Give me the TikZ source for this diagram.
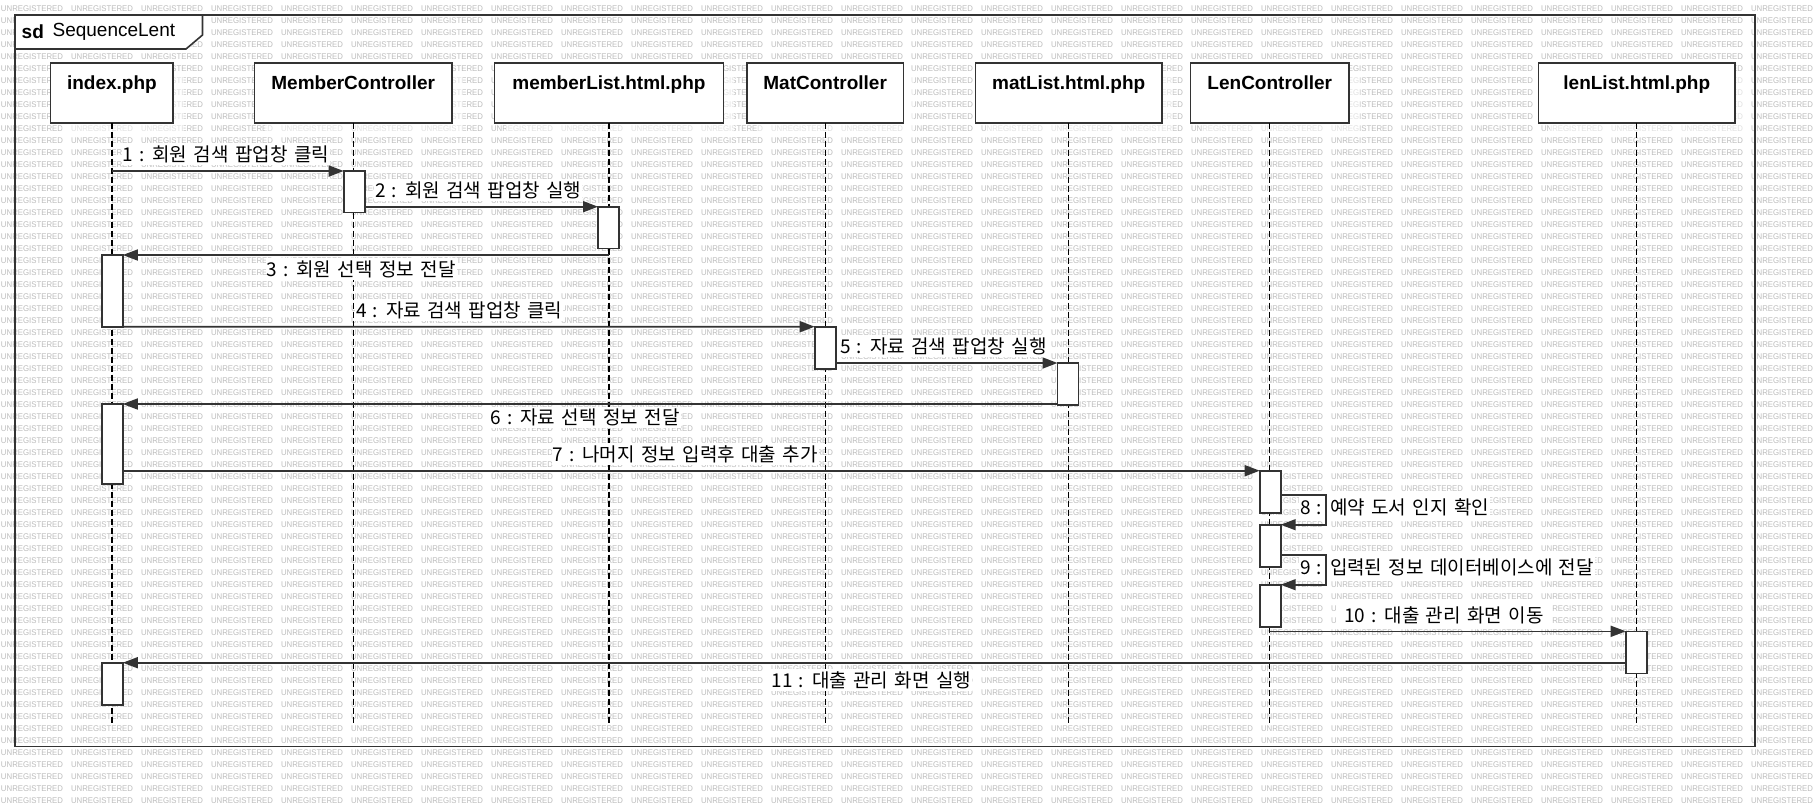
\documentclass[tikz,border=0pt]{standalone}
\usepackage{fontspec}
\setmainfont{Liberation Sans}
\newfontfamily\kfont[WordSpace=1.5]{Noto Sans CJK KR}
\newfontfamily\wmfont[FakeStretch=0.94]{Liberation Sans}
\usetikzlibrary{arrows.meta,shadows}

\definecolor{ink}{HTML}{333333}
\definecolor{wmgray}{HTML}{BDBDBD}

\begin{document}
\begin{tikzpicture}[x=1pt,y=-1pt,
  every node/.style={inner sep=0pt, outer sep=0pt},
  wmtext/.style={anchor=west, text=wmgray, font=\wmfont\fontsize{8.3}{8.3}\selectfont},
  party/.style={draw=ink, line width=1.6pt, fill=white, minimum height=60pt,
    text height=26.6pt, text depth=33.4pt, anchor=north west,
    font=\bfseries\fontsize{19}{19}\selectfont,
    drop shadow={shadow xshift=11pt, shadow yshift=-9pt, fill=white, opacity=.55}},
  lifeline/.style={draw=black, line width=1.3pt, dash pattern=on 6pt off 3pt},
  act/.style={draw=ink, fill=white, line width=1.6pt, minimum width=21pt, anchor=north},
  msg/.style={draw=ink, line width=1.6pt, -{Triangle[length=15pt,width=11pt]}},
  lbl/.style={anchor=west, fill=white, inner xsep=1pt, inner ysep=2pt,
    font=\kfont\fontsize{19}{19}\selectfont},
  frametext/.style={anchor=west, font=\fontsize{19}{19}\selectfont}
]
\useasboundingbox (0,0) rectangle (1815,807);
\fill[white] (0,0) rectangle (1815,807);

% background pattern
\foreach \r in {0,...,66}{
  \foreach \c in {0,...,25}{
    \node[wmtext] (w-\r-\c) at ({1+70*\c},{9+12*\r}) {UNREGISTERED};
  }
}

% frame and its tab
\node[draw=ink, line width=1.6pt, minimum width=1740pt, minimum height=731.6pt, anchor=north west] (frame) at (15,15) {};
\draw[ink, line width=1.6pt, fill=white] (frame.north west) -- (202.5,15) -- (202.5,35) -- (186,49) -- (15,49) -- cycle;
\node[frametext, font=\bfseries\fontsize{19}{19}\selectfont] (sdkw) at (21.7,31.7) {sd};
\node[frametext] (sdname) at (52.6,31.7) {SequenceLent};

% participants
\node[party, minimum width=122.6pt] (p1) at (50.6,62.7) {index.php};
\node[party, minimum width=197.6pt] (p2) at (254.4,62.7) {MemberController};
\node[party, minimum width=228.9pt] (p3) at (494.5,62.7) {memberList.html.php};
\node[party, minimum width=156.3pt] (p4) at (747,62.7) {MatController};
\node[party, minimum width=186.9pt] (p5) at (975.3,62.7) {matList.html.php};
\node[party, minimum width=158.5pt] (p6) at (1190.5,62.7) {LenController};
\node[party, minimum width=196.5pt] (p7) at (1538.5,62.7) {lenList.html.php};

% lifelines
\coordinate (lend) at (0,722.7);
\foreach \p in {p1,p2,p3,p4,p5,p6,p7}{
  \draw[lifeline] (\p.south) -- (\p.south |- lend);
}

% activations
\node[act, minimum height=41.3pt] (a2) at (354.2,171) {};
\node[act, minimum height=41.6pt] (a3) at (608.5,206.7) {};
\node[act, minimum height=71.7pt] (a1) at (112.3,255) {};
\node[act, minimum height=42.3pt] (a4) at (825.2,326.7) {};
\node[act, minimum height=42pt] (a5) at (1068,363) {};
\node[act, minimum height=80pt] (a1b) at (112.3,404) {};
\node[act, minimum height=42pt] (a6) at (1270.2,470.7) {};
\node[act, minimum height=42pt] (a6b) at (1270.2,524.7) {};
\node[act, minimum height=42pt] (a6c) at (1270.2,584.7) {};
\node[act, minimum height=42pt] (a7) at (1636.2,631.3) {};
\node[act, minimum height=42.3pt] (a1c) at (112.3,662.7) {};

% message labels
\node[lbl] (t1) at (121.5,154) {1 : 회원 검색 팝업창 클릭};
\node[lbl] (t2) at (374,190.7) {2 : 회원 검색 팝업창 실행};
\node[lbl] (t3) at (265.5,269) {3 : 회원 선택 정보 전달};
\node[lbl] (t4) at (355,310) {4 : 자료 검색 팝업창 클릭};
\node[lbl] (t5) at (839,346) {5 : 자료 검색 팝업창 실행};
\node[lbl] (t6) at (489.5,417.7) {6 : 자료 선택 정보 전달};
\node[lbl] (t7) at (551.5,454) {7 : 나머지 정보 입력후 대출 추가};
\node[lbl] (t8) at (1299,507.3) {8 : 예약 도서 인지 확인};
\node[lbl] (t9) at (1299,567.3) {9 : 입력된 정보 데이터베이스에 전달};
\node[lbl, inner xsep=8pt] (t10) at (1336,615) {10 : 대출 관리 화면 이동};
\node[lbl] (t11) at (770.5,680) {11 : 대출 관리 화면 실행};

% messages
\draw[msg] (p1.south |- a2.north) -- (a2.north west);
\draw[msg] (a2.east |- a3.north) -- (a3.north west);
\draw[msg] (p3.south |- a1.north) -- (a1.north east);
\draw[msg] (a1.south east) -- (a4.north west);
\draw[msg] (a4.east |- a5.north) -- (a5.north west);
\draw[msg] (a5.west |- a1b.north) -- (a1b.north east);
\draw[msg] (a1b.east |- a6.north) -- (a6.north west);
\coordinate (loopx) at (1326,0);
\coordinate (y8) at (0,494.7);
\coordinate (y9) at (0,554.7);
\draw[msg] (a6.east |- y8) -- (loopx |- y8) -- (loopx |- a6b.north) -- (a6b.north east);
\draw[msg] (a6b.east |- y9) -- (loopx |- y9) -- (loopx |- a6c.north) -- (a6c.north east);
\draw[msg] (p6.south |- a7.north) -- (a7.north west);
\draw[msg] (a7.west |- a1c.north) -- (a1c.north east);
\end{tikzpicture}
\end{document}
